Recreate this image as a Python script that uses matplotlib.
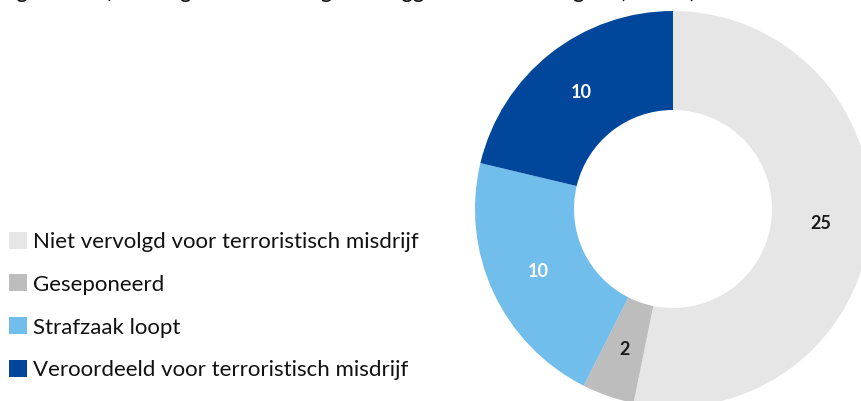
import matplotlib.pyplot as plt
from matplotlib.patches import Patch

categories = ["Niet vervolgd voor terroristisch misdrijf", "Geseponeerd",
              "Strafzaak loopt", "Veroordeeld voor terroristisch misdrijf"]
values = [25, 2, 10, 10]
colors = ["#E6E6E6", "#BDBDBD", "#71BDEC", "#00469A"]
label_colors = ["#1a1a1a", "#1a1a1a", "white", "white"]
title = "Figuur 3. Afdoening van zaken tegen teruggekeerde uitreizigers (n = 47)"

W, H = 861, 401
fig = plt.figure(figsize=(W / 100, H / 100), dpi=100)
plt.rcParams['font.family'] = ['Lato', 'DejaVu Sans']

# donut centre and radius in pixels (from top-left)
cx, cy, r = 673, 209, 198
ax = fig.add_axes([(cx - r) / W, (H - cy - r) / H, 2 * r / W, 2 * r / H])
wedges, texts = ax.pie(values, colors=colors, startangle=90, counterclock=False,
                       radius=1, wedgeprops=dict(width=0.5, linewidth=0),
                       labels=[str(v) for v in values], labeldistance=0.75)
for t, c in zip(texts, label_colors):
    t.set_color(c)
    t.set_fontsize(13)
    t.set_fontweight('bold')
    t.set_ha('center')
    t.set_va('center')
ax.set_xlim(-1, 1)
ax.set_ylim(-1, 1)
ax.set_aspect('equal')

handles = [Patch(facecolor=c, edgecolor='none') for c in colors]
fig.legend(handles, categories, loc='center left', bbox_to_anchor=(0.0, 0.237),
           frameon=False, fontsize=16, handlelength=0.8, handleheight=0.8,
           handletextpad=0.3, labelspacing=1.02, borderaxespad=0.0,
           borderpad=0.4, labelcolor='#111111')

# title: only the descenders fall inside the picture, as in the source
fig.text(0.0, 1 + 2 / H, title, fontsize=17, style='italic', va='baseline',
         ha='left', color='#111111')

fig.savefig("out.png", dpi=100)
